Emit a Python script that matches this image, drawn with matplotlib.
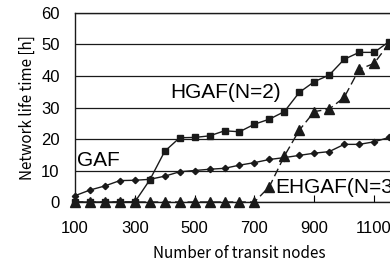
import matplotlib.pyplot as plt
import numpy as np

# number of transit nodes
nodes = np.arange(100, 1200, 50)

gaf = [2.0, 3.8, 5.1, 6.8, 6.9, 7.2, 8.2, 9.6, 10.0, 10.4, 10.7,
       11.7, 12.5, 13.5, 14.1, 14.8, 15.5, 16.0, 18.3, 18.3, 19.1, 20.5]
hgaf = [0, 0, 0, 0, 0, 7.0, 16.1, 20.4, 20.5, 21.0, 22.6,
        22.3, 24.7, 26.3, 28.7, 34.8, 38.2, 40.3, 45.3, 47.5, 47.5, 50.9]
ehgaf = [0, 0, 0, 0, 0, 0, 0, 0, 0, 0, 0,
         0, 0, 4.9, 14.6, 22.8, 28.7, 29.5, 33.2, 42.1, 44.0, 50.3]

xticks = [100, 300, 500, 700, 900, 1100]
yticks = [0, 10, 20, 30, 40, 50, 60]

plt.rcParams['font.family'] = ['Liberation Sans', 'DejaVu Sans']

fig = plt.figure(figsize=(3.9, 2.63), dpi=100)
# the right part of the axes runs past the figure edge, as in the original
ax = fig.add_axes([0.1923, 0.2319, 0.8436, 0.7187])

ax.plot(nodes, gaf, '-', color='#1a1a1a', lw=1.0, marker='D', ms=3.2, clip_on=False, zorder=3)
ax.plot(nodes, hgaf, '-', color='#1a1a1a', lw=1.0, marker='s', ms=4.3, clip_on=False, zorder=3)
ax.plot(nodes, ehgaf, '--', color='#1a1a1a', lw=1.0, marker='^', ms=6.5, dashes=(6, 3),
        clip_on=False, zorder=4)

ax.set_xlim(100, 1200)
ax.set_ylim(0, 60)
ax.set_xticks(xticks)
ax.set_yticks(yticks)
ax.yaxis.grid(True, color='#1a1a1a', lw=0.9)
ax.set_axisbelow(True)
for s in ax.spines.values():
    s.set_color('#1a1a1a')
    s.set_linewidth(1.0)
ax.tick_params(axis='x', direction='in', length=5, pad=14, labelsize=12)
ax.tick_params(axis='y', direction='in', length=0, pad=11, labelsize=12)

# series labels
ax.annotate('HGAF(N=2)', xy=(170, 263 - 92.5), xycoords='figure pixels',
            fontsize=15, va='center', ha='left')
ax.annotate('GAF', xy=(77, 263 - 160), xycoords='figure pixels',
            fontsize=15, va='center', ha='left')
ax.annotate('EHGAF(N=3)', xy=(275, 263 - 187.5), xycoords='figure pixels',
            fontsize=15, va='center', ha='left')

ax.set_xlabel('Number of transit nodes', fontsize=11,
              family=['Noto Sans CJK JP', 'DejaVu Sans'], labelpad=6)
ax.set_ylabel('Network life time [h]', fontsize=11,
              family=['Noto Sans CJK JP', 'DejaVu Sans'], labelpad=4)

fig.savefig('out.png', dpi=100)
